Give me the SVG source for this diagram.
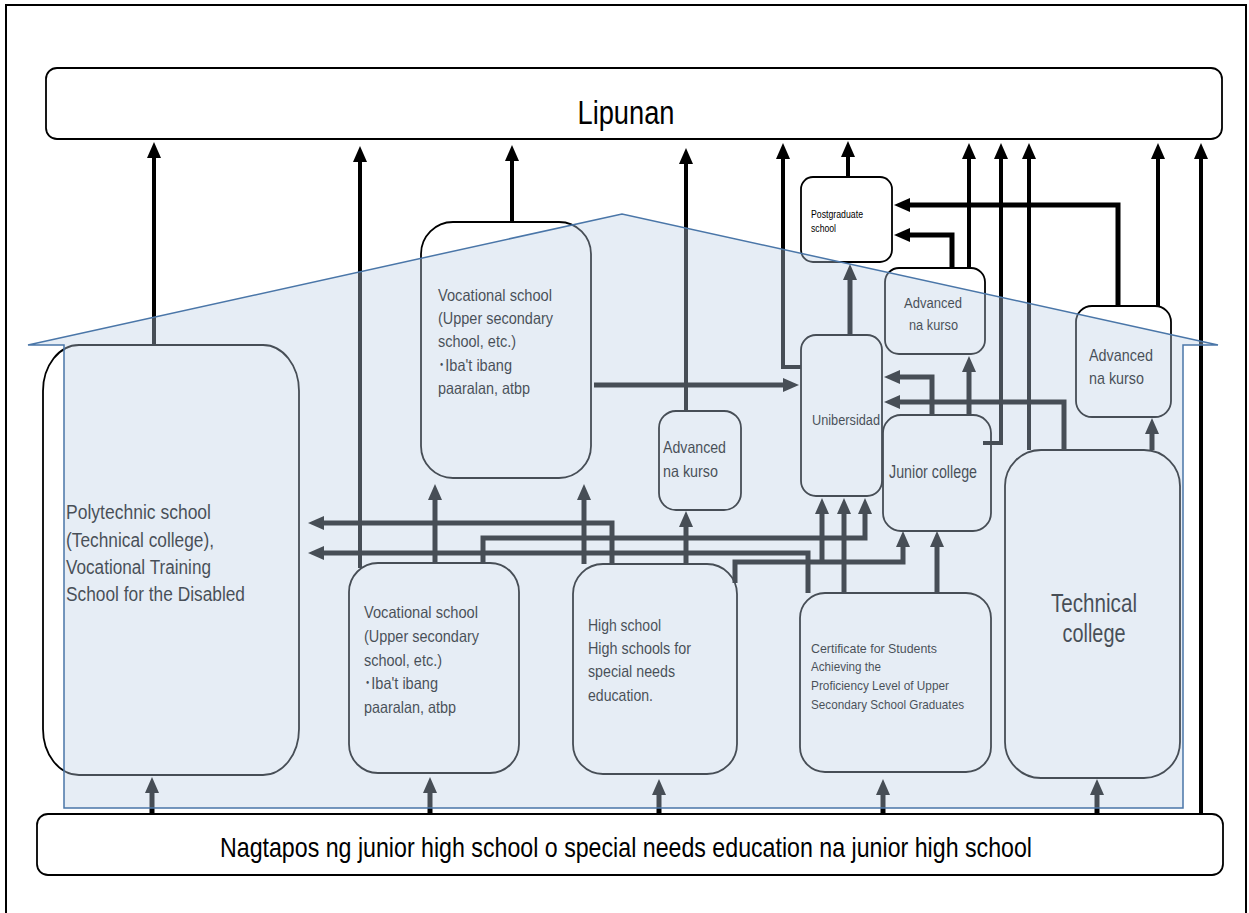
<svg xmlns="http://www.w3.org/2000/svg" width="1249" height="913" viewBox="0 0 1249 913">
<style>
.box{fill:#fff;stroke:#000;stroke-width:1.8}
.t{font-family:"Liberation Sans","Noto Sans CJK JP",sans-serif;fill:#000}
.c{fill:none;stroke:#000;stroke-width:5;stroke-linejoin:miter;marker-end:url(#ah)}
.k{fill:none;stroke:#000;stroke-width:4;stroke-linejoin:miter;marker-end:url(#ah)}
</style>
<defs>
<marker id="ah" viewBox="0 0 16 14" refX="2" refY="7" markerWidth="16" markerHeight="14" markerUnits="userSpaceOnUse" orient="auto"><path d="M0,0 L16,7 L0,14 Z" fill="#000"/></marker>
</defs>
<rect x="0" y="0" width="1249" height="913" fill="#fff"/>
<rect x="6" y="5" width="1240" height="920" fill="none" stroke="#000" stroke-width="2"/>

<g id="lipunan">
<rect class="box" x="46" y="68" width="1176" height="71" rx="11"/>
<text class="t" x="626" y="124" font-size="33" text-anchor="middle" textLength="97" lengthAdjust="spacingAndGlyphs">Lipunan</text>
</g>
<g id="nagtapos">
<rect class="box" x="37" y="814" width="1186" height="61" rx="11"/>
<text class="t" x="220" y="857" font-size="28" textLength="812" lengthAdjust="spacingAndGlyphs">Nagtapos ng junior high school o special needs education na junior high school</text>
</g>

<g id="polytechnic">
<rect class="box" x="43" y="345" width="256" height="430" rx="36" ry="46"/>
<text class="t" font-size="19.5"><tspan x="66" y="519" textLength="145" lengthAdjust="spacingAndGlyphs">Polytechnic school</tspan><tspan x="66" y="547" textLength="148" lengthAdjust="spacingAndGlyphs">(Technical college),</tspan><tspan x="66" y="574" textLength="145" lengthAdjust="spacingAndGlyphs">Vocational Training</tspan><tspan x="66" y="601" textLength="179" lengthAdjust="spacingAndGlyphs">School for the Disabled</tspan></text>
</g>
<g id="vocational-top">
<rect class="box" x="421" y="222" width="170" height="256" rx="32"/>
<text class="t" font-size="16.5"><tspan x="438" y="301" textLength="114" lengthAdjust="spacingAndGlyphs">Vocational school</tspan><tspan x="438" y="324" textLength="115" lengthAdjust="spacingAndGlyphs">(Upper secondary</tspan><tspan x="438" y="347" textLength="78" lengthAdjust="spacingAndGlyphs">school, etc.)</tspan><tspan x="438" y="371" textLength="74" lengthAdjust="spacingAndGlyphs">･Iba't ibang</tspan><tspan x="438" y="394" textLength="92" lengthAdjust="spacingAndGlyphs">paaralan, atbp</tspan></text>
</g>
<g id="vocational-bottom">
<rect class="box" x="349" y="563" width="170" height="210" rx="29"/>
<text class="t" font-size="16.5"><tspan x="364" y="618" textLength="114" lengthAdjust="spacingAndGlyphs">Vocational school</tspan><tspan x="364" y="642" textLength="115" lengthAdjust="spacingAndGlyphs">(Upper secondary</tspan><tspan x="364" y="666" textLength="78" lengthAdjust="spacingAndGlyphs">school, etc.)</tspan><tspan x="364" y="689" textLength="74" lengthAdjust="spacingAndGlyphs">･Iba't ibang</tspan><tspan x="364" y="713" textLength="92" lengthAdjust="spacingAndGlyphs">paaralan, atbp</tspan></text>
</g>
<g id="high-school">
<rect class="box" x="573" y="564" width="164" height="210" rx="30"/>
<text class="t" font-size="17"><tspan x="588" y="631" textLength="73" lengthAdjust="spacingAndGlyphs">High school</tspan><tspan x="588" y="654" textLength="103" lengthAdjust="spacingAndGlyphs">High schools for</tspan><tspan x="588" y="677" textLength="87" lengthAdjust="spacingAndGlyphs">special needs</tspan><tspan x="588" y="701" textLength="65" lengthAdjust="spacingAndGlyphs">education.</tspan></text>
</g>
<g id="advanced-mid">
<rect class="box" x="659" y="411" width="82" height="99" rx="17"/>
<text class="t" font-size="16.5"><tspan x="663" y="453" textLength="63" lengthAdjust="spacingAndGlyphs">Advanced</tspan><tspan x="663" y="477" textLength="55" lengthAdjust="spacingAndGlyphs">na kurso</tspan></text>
</g>
<g id="unibersidad">
<rect class="box" x="801" y="335" width="81" height="161" rx="15"/>
<text class="t" x="812" y="425" font-size="15.5" textLength="68" lengthAdjust="spacingAndGlyphs">Unibersidad</text>
</g>
<g id="postgraduate">
<rect class="box" x="801" y="177" width="91" height="85" rx="12"/>
<text class="t" font-size="10"><tspan x="811" y="218" textLength="52" lengthAdjust="spacingAndGlyphs">Postgraduate</tspan><tspan x="811" y="232" textLength="25" lengthAdjust="spacingAndGlyphs">school</tspan></text>
</g>
<g id="advanced-upper">
<rect class="box" x="885" y="268" width="100" height="86" rx="14"/>
<text class="t" font-size="15.5"><tspan x="904" y="308" textLength="58" lengthAdjust="spacingAndGlyphs">Advanced</tspan><tspan x="909" y="330" textLength="49" lengthAdjust="spacingAndGlyphs">na kurso</tspan></text>
</g>
<g id="advanced-right">
<rect class="box" x="1076" y="306" width="95" height="111" rx="16"/>
<text class="t" font-size="17"><tspan x="1089" y="361" textLength="64" lengthAdjust="spacingAndGlyphs">Advanced</tspan><tspan x="1089" y="384" textLength="55" lengthAdjust="spacingAndGlyphs">na kurso</tspan></text>
</g>
<g id="junior-college">
<rect class="box" x="883" y="415" width="108" height="116" rx="18"/>
<text class="t" x="889" y="478" font-size="17.5" textLength="88" lengthAdjust="spacingAndGlyphs">Junior college</text>
</g>
<g id="certificate">
<rect class="box" x="800" y="593" width="191" height="179" rx="25"/>
<text class="t" font-size="13.5"><tspan x="811" y="653" textLength="126" lengthAdjust="spacingAndGlyphs">Certificate for Students</tspan><tspan x="811" y="671" textLength="70" lengthAdjust="spacingAndGlyphs">Achieving the</tspan><tspan x="811" y="690" textLength="138" lengthAdjust="spacingAndGlyphs">Proficiency Level of Upper</tspan><tspan x="811" y="709" textLength="153" lengthAdjust="spacingAndGlyphs">Secondary School Graduates</tspan></text>
</g>
<g id="technical-college">
<rect class="box" x="1005" y="450" width="175" height="328" rx="36"/>
<text class="t" font-size="25" text-anchor="middle"><tspan x="1094" y="612" textLength="86" lengthAdjust="spacingAndGlyphs">Technical</tspan><tspan x="1094" y="642" textLength="63" lengthAdjust="spacingAndGlyphs">college</tspan></text>
</g>

<g id="connectors">
<path class="k" d="M154,345 V156"/>
<path class="k" d="M360,568 V160"/>
<path class="k" d="M512,222 V159"/>
<path class="k" d="M686,411 V162"/>
<path class="k" d="M801,367 H783 V157"/>
<path class="k" d="M848,177 V155"/>
<path class="k" d="M969,268 V157"/>
<path class="k" d="M983,443 H1001 V157"/>
<path class="k" d="M1029,450 V157"/>
<path class="k" d="M1158,306 V157"/>
<path class="k" d="M1201,815 V157"/>
<path class="c" d="M1118,306 V205 H908"/>
<path class="c" d="M952,268 V235 H908"/>
<path class="c" d="M850,335 V278"/>
<path class="c" d="M594,385 H785"/>
<path class="c" d="M932,415 V377 H898"/>
<path class="c" d="M1064,450 V402 H898"/>
<path class="c" d="M969,415 V370"/>
<path class="c" d="M1152,450 V432"/>
<path class="c" d="M612,564 V523 H322"/>
<path class="c" d="M808,593 V553 H322"/>
<path class="c" d="M483,563 V538 H865 V512"/>
<path class="c" d="M735,583 V562 H903 V545"/>
<path class="c" d="M822,562 V512"/>
<path class="c" d="M844,593 V512"/>
<path class="c" d="M937,593 V545"/>
<path class="c" d="M686,564 V525"/>
<path class="c" d="M584,564 V498"/>
<path class="c" d="M435,563 V498"/>
<path class="c" d="M152,815 V791"/>
<path class="c" d="M430,815 V791"/>
<path class="c" d="M659,815 V793"/>
<path class="c" d="M883,815 V793"/>
<path class="c" d="M1097,815 V793"/>
</g>

<g id="house">
<polygon points="28,345 622,214 1218,345 1183,345 1183,808 64,808 64,345" fill="rgb(188,206,228)" fill-opacity="0.375" stroke="#4a76a8" stroke-width="1.5"/>
</g>
</svg>
